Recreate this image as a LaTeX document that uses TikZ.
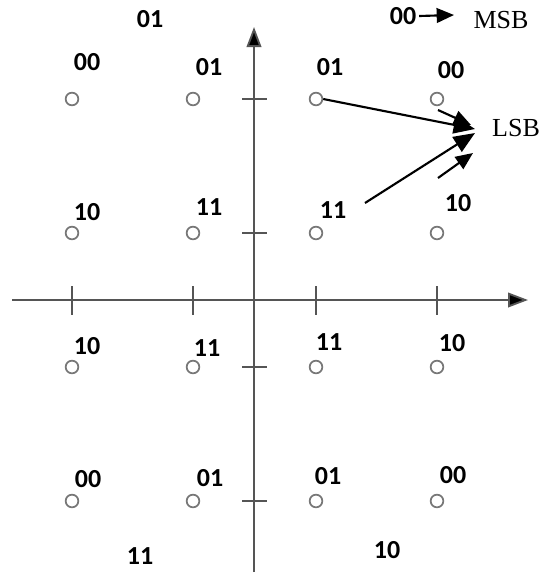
\documentclass[tikz,border=0pt]{standalone}
\usepackage{fontspec}
\setmainfont{Liberation Serif}
\newfontfamily\lblfont{Carlito}
\usetikzlibrary{arrows.meta}
\definecolor{axisgray}{HTML}{555555}
\definecolor{dotgray}{HTML}{777777}
\begin{document}
\begin{tikzpicture}[x=0.75pt,y=-0.75pt,
  axis/.style={draw=axisgray,line width=1.4pt},
  axisarrow/.style={axis,-{Triangle[length=15pt,width=11pt,fill=black]}},
  tickmark/.style={draw=axisgray,line width=1.2pt},
  pt/.style={circle,draw=dotgray,line width=1.3pt,minimum size=9.5pt,inner sep=0pt},
  bits/.style={font=\lblfont\bfseries\fontsize{19.5}{22}\selectfont,inner sep=0pt},
  sig/.style={font=\fontsize{19.5}{23}\selectfont,inner sep=0pt},
  pointer/.style={draw=black,line width=1.6pt,-{Triangle[length=13pt,width=11pt]}},
  bigpointer/.style={draw=black,line width=1.6pt,-{Triangle[length=16pt,width=13pt]}}
]
\useasboundingbox (0,0) rectangle (540,575);
% axes
\coordinate (xs) at (12,300);
\coordinate (xe) at (528,300);
\coordinate (ys) at (254,572);
\coordinate (ye) at (254,27);
\draw[axisarrow] (xs) -- (xe);
\draw[axisarrow] (ys) -- (ye);
% ticks
\foreach \x in {72,193,316,437}{\draw[tickmark] (\x,286) -- (\x,315);}
\foreach \y in {99,233,367,501}{\draw[tickmark] (242,\y) -- (267,\y);}
% constellation points
\node[pt] (p11) at (72,99) {};
\node[pt] (p12) at (193,99) {};
\node[pt] (p13) at (316,99) {};
\node[pt] (p14) at (437,99) {};
\node[pt] (p21) at (72,233) {};
\node[pt] (p22) at (193,233) {};
\node[pt] (p23) at (316,233) {};
\node[pt] (p24) at (437,233) {};
\node[pt] (p31) at (72,367) {};
\node[pt] (p32) at (193,367) {};
\node[pt] (p33) at (316,367) {};
\node[pt] (p34) at (437,367) {};
\node[pt] (p41) at (72,501) {};
\node[pt] (p42) at (193,501) {};
\node[pt] (p43) at (316,501) {};
\node[pt] (p44) at (437,501) {};
% labels
\node[bits] (l0) at (150,19) {01};
\node[bits] (l11) at (87,62) {00};
\node[bits] (l12) at (209,67) {01};
\node[bits] (l13) at (330,67) {01};
\node[bits] (l14) at (451,70) {00};
\node[bits] (l21) at (87,212) {10};
\node[bits] (l22) at (209,207) {11};
\node[bits] (l23) at (333,210) {11};
\node[bits] (l24) at (458,203) {10};
\node[bits] (l31) at (87,346) {10};
\node[bits] (l32) at (207,348) {11};
\node[bits] (l33) at (329,342) {11};
\node[bits] (l34) at (452,343) {10};
\node[bits] (l41) at (88,479) {00};
\node[bits] (l42) at (210,478) {01};
\node[bits] (l43) at (328,476) {01};
\node[bits] (l44) at (453,475) {00};
\node[bits] (l5) at (140,556) {11};
\node[bits] (l6) at (387,550) {10};
% MSB / LSB
\node[bits] (msbbits) at (403,16) {00};
\node[sig] (msb) at (501,20) {MSB};
\node[sig] (lsb) at (516,128) {LSB};
\draw[pointer] (msbbits.east) ++(2pt,0) coordinate (ma) -- (454,15) coordinate (mb);
% pointers to LSB
\coordinate (t1) at (475,129);
\coordinate (t2) at (475,133);
\coordinate (s2) at (365,203);
\coordinate (s3) at (438,110);
\coordinate (t3) at (471,125);
\coordinate (s4) at (438,178);
\coordinate (t4) at (473,153);
\draw[bigpointer] (p13.east) -- (t1);
\draw[bigpointer] (s2) -- (t2);
\draw[pointer] (s3) -- (t3);
\draw[pointer] (s4) -- (t4);
\end{tikzpicture}
\end{document}
